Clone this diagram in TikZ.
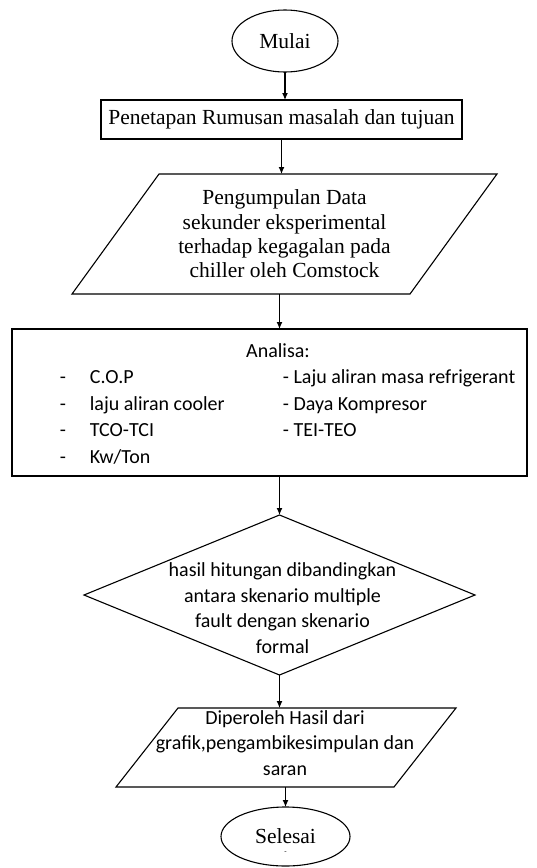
\documentclass[tikz,border=0pt]{standalone}
\usepackage{fontspec}
\setmainfont{Liberation Serif}
\newfontfamily\calibri{Carlito}
\usetikzlibrary{shapes.geometric,positioning,arrows.meta}
\newcommand{\slantbox}[2]{\draw ([xshift=#2]#1.north west) -- (#1.north east) -- ([xshift=-#2]#1.south east) -- (#1.south west) -- cycle;}
\tikzset{
  romantext/.style={font=\fontsize{21.5}{24.3}\selectfont},
  sanstext/.style={font=\calibri\fontsize{20}{25.5}\selectfont},
  startstop/.style={ellipse,draw,romantext,inner sep=0pt,outer sep=0pt},
  process/.style={rectangle,draw,inner sep=0pt,outer sep=0pt},
  iobox/.style={rectangle,inner sep=0pt,outer sep=0pt,align=center},
  decision/.style={diamond,draw,inner sep=0pt,outer sep=0pt},
}

\begin{document}
\begin{tikzpicture}[x=1pt,y=-1pt,line width=1.1pt,>={Latex[length=7pt,width=6pt]}]
\useasboundingbox (0,0) rectangle (537,868);

\node[startstop,minimum width=106pt,minimum height=62pt] (mulai) at (285,41) {Mulai};
\node[process,romantext,minimum width=361pt,minimum height=39pt,below=28pt of mulai,xshift=-3.5pt] (rumusan) {Penetapan Rumusan masalah dan tujuan};
\draw[->] (mulai) -- (mulai |- rumusan.north);

% input data
\node[iobox,romantext,minimum width=425pt,minimum height=120pt,below=35pt of rumusan,xshift=3pt] (data) {Pengumpulan Data\\sekunder eksperimental\\terhadap kegagalan pada\\chiller oleh Comstock};
\slantbox{data}{87pt}
\draw[->] (rumusan) -- (rumusan |- data.north);

% analisa
\node[process,minimum width=515pt,minimum height=147pt,below=35pt of data,xshift=-15pt] (analisa) {};
\draw[->] ([xshift=-5pt]data.south) -- ([xshift=-5pt]data.south |- analisa.north);
\node[sanstext,anchor=base] (judul) at ([xshift=266pt,yshift=-28pt]analisa.north west) {Analisa:};
\foreach \txt [count=\i] in {C.O.P,laju aliran cooler,TCO-TCI,Kw/Ton}{
  \node[sanstext,anchor=base west] (dash\i) at ([xshift=44pt,yshift=-28pt-26.5pt*\i]analisa.north west) {-};
  \node[sanstext,anchor=base west] (kiri\i) at ([xshift=74pt,yshift=-28pt-26.5pt*\i]analisa.north west) {\txt};
}
\foreach \txt [count=\i] in {- Laju aliran masa refrigerant,- Daya Kompresor,- TEI-TEO}{
  \node[sanstext,anchor=base west] (kanan\i) at ([xshift=267pt,yshift=-28pt-26.5pt*\i]analisa.north west) {\txt};
}

% perbandingan
\node[decision,minimum width=391pt,minimum height=160pt,below=39pt of analisa,xshift=10pt] (banding) {};
\node[sanstext,align=center] (bandingteks) at ([xshift=3pt,yshift=-13pt]banding.center) {hasil hitungan dibandingkan\\antara skenario multiple\\fault dengan skenario\\formal};
\draw[->] (banding.north |- analisa.south) -- (banding);

% hasil
\node[iobox,minimum width=340pt,minimum height=79pt,below=33pt of banding,xshift=6.5pt] (hasil) {};
\slantbox{hasil}{62pt}
\node[sanstext,align=center] (hasilteks) at ([xshift=-1pt,yshift=4.5pt]hasil.center) {Diperoleh Hasil dari\\grafik,pengambikesimpulan dan\\saran};
\draw[->] (banding) -- (banding |- hasil.north);

\node[startstop,minimum width=129pt,minimum height=59pt,below=20pt of hasil,xshift=-0.5pt] (selesai) {Selesai};
\node[font=\fontsize{7}{7}\selectfont,inner sep=0pt] (titik) at ([yshift=-16pt]selesai.center) {-};
\draw[->] (selesai |- hasil.south) -- (selesai);

\end{tikzpicture}
\end{document}
